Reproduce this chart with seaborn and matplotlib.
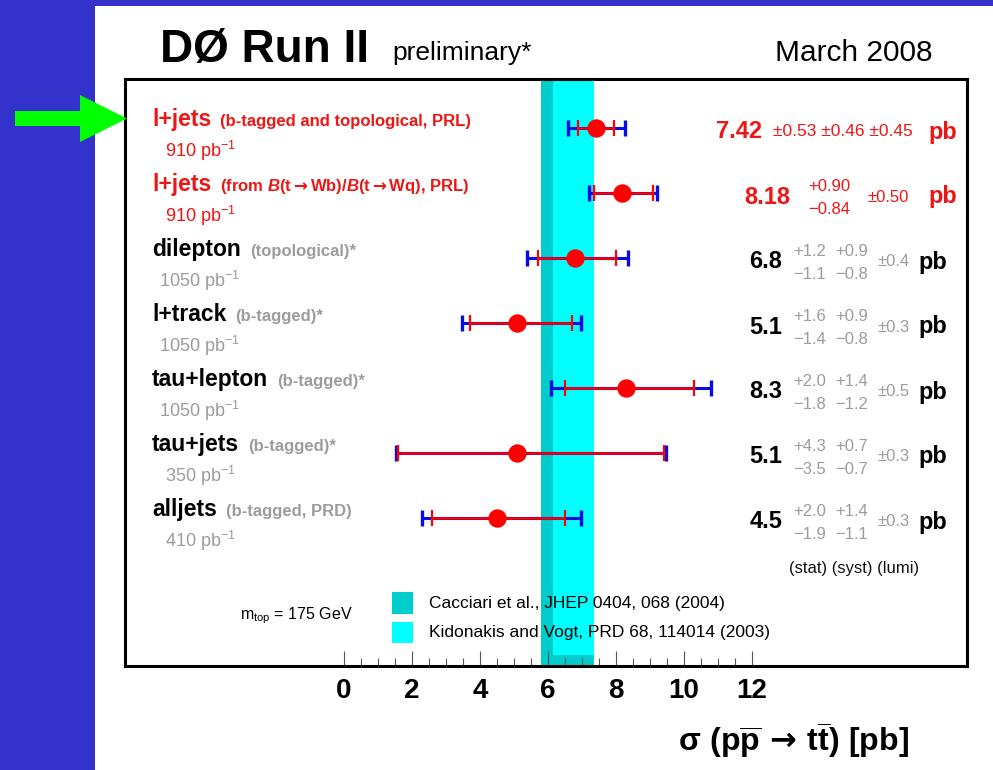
import numpy as np
import pandas as pd
import matplotlib
matplotlib.use("Agg")
import matplotlib.pyplot as plt
import seaborn as sns
from matplotlib import font_manager as fm
from matplotlib.patches import Rectangle, Polygon

# ---------------- data ----------------
channels = ["l+jets", "l+jets", "dilepton", "l+track", "tau+lepton", "tau+jets", "alljets"]
notes = ["(b-tagged and topological, PRL)",
         r"(from $B$(t$\mathsf{\rightarrow}$Wb)/$B$(t$\mathsf{\rightarrow}$Wq), PRL)",
         "(topological)*", "(b-tagged)*", "(b-tagged)*", "(b-tagged)*", "(b-tagged, PRD)"]
lumi_pb = [910, 910, 1050, 1050, 1050, 350, 410]
xsec = [7.42, 8.18, 6.8, 5.1, 8.3, 5.1, 4.5]
stat_up = [0.53, 0.90, 1.2, 1.6, 2.0, 4.3, 2.0]
stat_dn = [0.53, 0.84, 1.1, 1.4, 1.8, 3.5, 1.9]
syst_up = [0.46, None, 0.9, 0.9, 1.4, 0.7, 1.4]   # None: stat+syst combined
syst_dn = [0.46, None, 0.8, 0.8, 1.2, 0.7, 1.1]
lumi_err = [0.45, 0.50, 0.4, 0.3, 0.5, 0.3, 0.3]
decimals = [2, 2, 1, 1, 1, 1, 1]
highlight = [True, True, False, False, False, False, False]

theory_labels = ["Cacciari et al., JHEP 0404, 068 (2004)",
                 "Kidonakis and Vogt, PRD 68, 114014 (2003)"]
theory_lo = [5.8, 6.15]
theory_hi = [7.35, 7.35]
tick_values = [0, 2, 4, 6, 8, 10, 12]

# ---------------- style ----------------
sns.set_theme(style="white")
plt.rcParams['font.family'] = ['Liberation Sans', 'DejaVu Sans']
plt.rcParams['text.color'] = 'black'
plt.rcParams['axes.labelcolor'] = 'black'
plt.rcParams['mathtext.fontset'] = 'custom'
plt.rcParams['mathtext.rm'] = 'Liberation Sans'
plt.rcParams['mathtext.it'] = 'Liberation Sans:italic:bold'
plt.rcParams['mathtext.bf'] = 'Liberation Sans:bold'
plt.rcParams['mathtext.sf'] = 'DejaVu Sans:bold'

names_avail = {f.name for f in fm.fontManager.ttflist}
NARROW = 'Liberation Sans'
for cand in ['Liberation Sans Narrow', 'DejaVu Sans Condensed']:
    if cand in names_avail:
        NARROW = cand
        break

BLUE_BG = '#3333CC'
RED = '#EE1515'
MRED = '#FF0000'
EBLUE = '#0A0AE6'
GRAY = '#9C9C9C'
TEAL = '#00CCCC'
CYAN = '#00FFFF'

W, H = 993, 770
fig = plt.figure(figsize=(W / 100, H / 100), dpi=100, facecolor=BLUE_BG)


def fx(px):
    return px / W


def fy(py):
    return 1 - py / H


def T(x, y, s, **kw):
    va = kw.pop('va', 'baseline')
    return fig.text(fx(x), fy(y), s, va=va, **kw)


# white panel
fig.add_artist(Rectangle((fx(95), 0), 1 - fx(95), fy(6), transform=fig.transFigure,
                         facecolor='white', edgecolor='none', zorder=-5))

# ---------------- axes ----------------
X0, PXU = 344, 34.0          # pixel of x=0, pixels per pb
AX_L, AX_R, AX_T, AX_B = 125, 967, 79, 666
ROW0, ROWSTEP = 128, 65
ax = fig.add_axes([fx(AX_L), fy(AX_B), (AX_R - AX_L) / W, (AX_B - AX_T) / H])
ax.set_facecolor('white')

rows = np.arange(len(channels))
df = pd.DataFrame({"xsec": xsec, "row": rows})

# theory bands
ax.axvspan(theory_lo[0], theory_hi[0], color=TEAL, lw=0, zorder=0.5)
ax.axvspan(theory_lo[1], theory_hi[1], ymin=0.019, ymax=1, color=CYAN, lw=0, zorder=0.6)

# total errors (quadrature) and stat errors
s_up = np.array(stat_up)
s_dn = np.array(stat_dn)
sy_up = np.array([0 if v is None else v for v in syst_up])
sy_dn = np.array([0 if v is None else v for v in syst_dn])
le = np.array(lumi_err)
tot_up = np.sqrt(s_up ** 2 + sy_up ** 2 + le ** 2)
tot_dn = np.sqrt(s_dn ** 2 + sy_dn ** 2 + le ** 2)

ax.errorbar(xsec, rows, xerr=[tot_dn, tot_up], fmt='none', ecolor=EBLUE,
            elinewidth=2.2, capsize=5.8, capthick=2.4, zorder=3)
ax.errorbar(xsec, rows, xerr=[s_dn, s_up], fmt='none', ecolor=MRED,
            elinewidth=1.8, capsize=5.8, capthick=1.6, zorder=4)
sns.scatterplot(data=df, x="xsec", y="row", color=MRED, edgecolor=MRED, s=150,
                zorder=5, ax=ax, legend=False)

ax.set_xlim((AX_L - X0) / PXU, (AX_R - X0) / PXU)
ax.set_ylim((AX_B - ROW0) / ROWSTEP, (AX_T - ROW0) / ROWSTEP)
ax.set_yticks([])
ax.set_ylabel("")
ax.set_xticks(tick_values)
ax.set_xticks(np.arange(tick_values[0], tick_values[-1] + 0.01, 0.5), minor=True)
ax.set_xticklabels([str(v) for v in tick_values])
ax.tick_params(axis='x', which='major', direction='in', length=11, width=0.8,
               color='#555555', labelcolor='black', pad=9, labelsize=20, bottom=True)
ax.tick_params(axis='x', which='minor', direction='in', length=5.5, width=0.8,
               color='#555555', bottom=True)
for lab in ax.get_xticklabels():
    lab.set_fontweight('bold')
    lab.set_family([NARROW, 'DejaVu Sans'])
for s in ax.spines.values():
    s.set_visible(True)
    s.set_color('black')
    s.set_linewidth(2.2)

ax.set_xlabel(r'$\mathbf{\sigma\ (p\overline{p}}\,\mathsf{\rightarrow}\,\mathbf{t\overline{t})\ [pb]}$',
              fontsize=23, color='black')
ax.xaxis.label.set_ha('right')
ax.xaxis.label.set_va('baseline')
ax.xaxis.set_label_coords((909 - AX_L) / (AX_R - AX_L), -(752 - AX_B) / (AX_B - AX_T))

# ---------------- header ----------------
T(160, 62, "D\u00d8 Run II", fontsize=33, fontweight='bold', color='black')
T(392, 60, "preliminary*", fontsize=19, color='black', family=[NARROW, 'DejaVu Sans'])
T(775, 61, "March 2008", fontsize=21.5, color='black', family=[NARROW, 'DejaVu Sans'])

# ---------------- row labels ----------------
MINUS = "\u2212"
renderer = fig.canvas.get_renderer()
for i, name in enumerate(channels):
    rp = ROW0 + ROWSTEP * i
    c_main = RED if highlight[i] else 'black'
    c_sub = RED if highlight[i] else GRAY
    t = T(152, rp - 2, name, fontsize=16.5, fontweight='bold', color=c_main)
    bb = t.get_window_extent(renderer=renderer)
    T(bb.x1 + 9, rp - 2, notes[i], fontsize=12, fontweight='bold', color=c_sub)
    T(200, rp + 29, f"{lumi_pb[i]} pb$^{{-1}}$", fontsize=13, color=c_sub, ha='center')

    d = decimals[i]
    val = f"{xsec[i]:.{d}f}"
    c_err = RED if highlight[i] else GRAY
    if syst_up[i] is None:
        # combined stat+syst, then lumi
        T(790, rp + 10.5, val, fontsize=17, fontweight='bold', color=c_main, ha='right')
        T(808, rp - 2, f"+{stat_up[i]:.{d}f}", fontsize=12, color=c_err)
        T(808, rp + 21, f"{MINUS}{stat_dn[i]:.{d}f}", fontsize=12, color=c_err)
        T(868, rp + 8.5, f"\u00b1{lumi_err[i]:.{d}f}", fontsize=12, color=c_err)
        T(928, rp + 10.5, "pb", fontsize=17, fontweight='bold', color=c_main)
    elif stat_up[i] == stat_dn[i] and syst_up[i] == syst_dn[i]:
        T(762, rp + 10.5, val, fontsize=17, fontweight='bold', color=c_main, ha='right')
        T(773, rp + 8.5, f"\u00b1{stat_up[i]:.{d}f} \u00b1{syst_up[i]:.{d}f} \u00b1{lumi_err[i]:.{d}f}",
          fontsize=12.5, color=c_err)
        T(928, rp + 10.5, "pb", fontsize=17, fontweight='bold', color=c_main)
    else:
        T(782, rp + 10.5, val, fontsize=17, fontweight='bold', color=c_main, ha='right')
        T(793, rp - 2, f"+{stat_up[i]:.{d}f}", fontsize=12, color=c_err)
        T(793, rp + 21, f"{MINUS}{stat_dn[i]:.{d}f}", fontsize=12, color=c_err)
        T(835, rp - 2, f"+{syst_up[i]:.{d}f}", fontsize=12, color=c_err)
        T(835, rp + 21, f"{MINUS}{syst_dn[i]:.{d}f}", fontsize=12, color=c_err)
        T(877, rp + 8.5, f"\u00b1{lumi_err[i]:.{d}f}", fontsize=12, color=c_err)
        T(918, rp + 10.5, "pb", fontsize=17, fontweight='bold', color=c_main)

T(789, 573, "(stat) (syst) (lumi)", fontsize=12, color='#111111')

# ---------------- legend ----------------
T(240, 619, r"m$_{\mathrm{top}}$ = 175 GeV", fontsize=11.5, color='black')
for k, (lab, col) in enumerate(zip(theory_labels, [TEAL, CYAN])):
    top = 592 + 29.5 * k
    fig.add_artist(Rectangle((fx(392), fy(top + 21.5)), 21 / W, 21.5 / H,
                             transform=fig.transFigure, facecolor=col, edgecolor='none', zorder=5))
    T(429, top + 16, lab, fontsize=12.5, color='black')

# ---------------- green arrow ----------------
arrow_px = [(15, 111), (80, 111), (80, 95), (127, 118.5), (80, 142), (80, 126), (15, 126)]
fig.add_artist(Polygon([(fx(x), fy(y)) for x, y in arrow_px], closed=True,
                       transform=fig.transFigure, facecolor='#00FF00', edgecolor='none', zorder=10))

fig.savefig("out.png", dpi=100, facecolor=fig.get_facecolor())
